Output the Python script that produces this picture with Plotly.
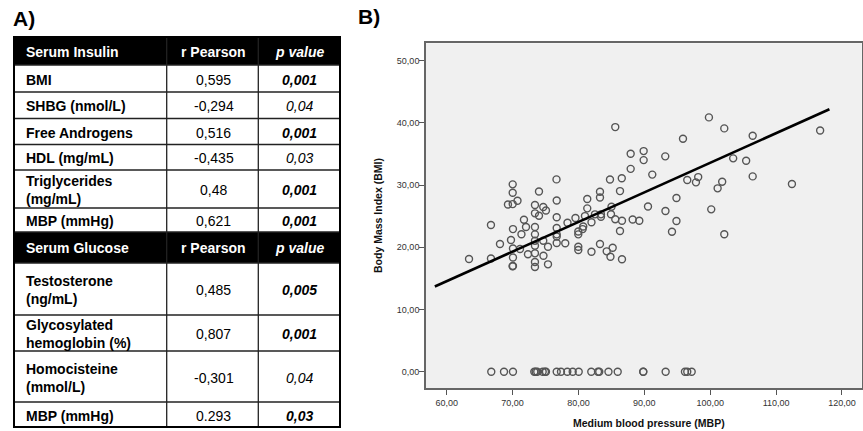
import plotly.graph_objects as go

# ---------------- Panel B data ----------------
mbp = [63.39, 66.72, 66.72, 68.09, 69.30, 69.76, 70.02, 70.02, 70.02, 70.06,
       70.06, 70.06, 70.06, 70.00, 70.75, 71.13, 71.35, 71.73, 72.04, 72.34,
       73.40, 73.40, 73.40, 73.40, 73.40, 73.40, 73.40, 73.40, 73.40, 74.01,
       74.01, 74.66, 74.66, 74.69, 75.07, 75.38, 75.38, 76.67, 76.70, 76.70,
       76.70, 76.70, 76.70, 76.70, 78.00, 78.34, 79.55, 79.98, 79.98, 80.64,
       80.73, 79.98, 79.98, 80.99, 81.34, 81.34, 81.98, 81.98, 82.51, 83.27,
       83.27, 83.42, 83.42, 83.27, 84.29, 84.86, 84.79, 85.02, 84.94, 85.20,
       85.59, 85.59, 86.31, 86.31, 86.58, 86.61, 86.61, 87.93, 87.93, 88.23,
       89.24, 89.90, 89.90, 90.56, 91.21, 93.18, 93.21, 94.20, 94.88, 94.88,
       95.87, 96.52, 97.84, 98.18, 99.81, 100.16, 101.13, 101.82, 102.14, 102.14,
       103.49, 105.46, 106.45, 106.45, 112.41, 116.69]
bmi = [18.11, 23.58, 18.19, 20.52, 26.87, 21.17, 30.12, 28.77, 26.95, 22.93,
       19.80, 18.35, 16.99, 16.95, 27.48, 19.72, 22.10, 24.43, 23.26, 18.88,
       26.79, 25.46, 23.26, 22.08, 21.05, 20.25, 19.03, 17.63, 16.83, 28.96,
       25.07, 26.47, 21.05, 18.63, 25.91, 20.09, 17.26, 30.92, 27.52, 24.83,
       23.10, 22.08, 21.73, 20.68, 20.64, 23.95, 24.70, 22.53, 22.08, 22.93,
       23.34, 20.09, 19.56, 25.02, 27.76, 26.26, 24.03, 19.29, 25.30, 28.93,
       28.00, 25.30, 24.91, 20.52, 19.35, 18.48, 30.89, 26.52, 25.31, 19.93,
       39.33, 24.51, 29.04, 22.61, 31.10, 24.27, 18.08, 35.04, 32.61, 24.46,
       24.27, 35.47, 34.02, 26.55, 31.69, 34.62, 25.83, 22.50, 27.92, 24.22,
       37.45, 30.81, 30.44, 31.29, 40.89, 26.10, 29.48, 30.54, 39.12, 22.10,
       34.30, 33.91, 37.93, 31.40, 30.17, 38.77]
# subjects plotted on the BMI = 0 line
mbp_zero = [66.77, 68.70, 70.06, 73.30, 73.51, 73.75, 74.57, 74.92, 75.07, 76.70,
            77.35, 78.31, 79.13, 80.04, 81.95, 82.97, 83.16, 84.56, 85.96, 89.84,
            89.84, 93.24, 96.17, 96.52, 97.19]
bmi_zero = [0.0] * len(mbp_zero)
fit_x = [58.2, 118.1]
fit_y = [13.7, 42.2]
x_ticks = [60, 70, 80, 90, 100, 110, 120]
y_ticks = [0, 10, 20, 30, 40, 50]
x_title = "Medium blood pressure (MBP)"
y_title = "Body Mass Index (BMI)"

# ---------------- Panel A data ----------------
col_headers = ["r Pearson", "p value"]
insulin_vars = ["BMI", "SHBG (nmol/L)", "Free Androgens", "HDL (mg/mL)",
                "Triglycerides<br>(mg/mL)", "MBP (mmHg)"]
insulin_r = ["0,595", "-0,294", "0,516", "-0,435", "0,48", "0,621"]
insulin_p = ["0,001", "0,04", "0,001", "0,03", "0,001", "0,001"]
insulin_p_bold = [True, False, True, False, True, True]
glucose_vars = ["Testosterone<br>(ng/mL)", "Glycosylated<br>hemoglobin (%)",
                "Homocisteine<br>(mmol/L)", "MBP (mmHg)"]
glucose_r = ["0,485", "0,807", "-0,301", "0.293"]
glucose_p = ["0,005", "0,001", "0,04", "0,03"]
glucose_p_bold = [True, True, False, True]

W, H = 863, 431
FONT = "Liberation Sans, Arial, Helvetica, sans-serif"


def px(x):
    return x / W


def py(y):
    return 1 - y / H


fig = go.Figure()

fig.add_trace(go.Scatter(
    x=mbp + mbp_zero, y=bmi + bmi_zero, mode="markers",
    marker=dict(symbol="circle-open", size=7, color="#555555",
                line=dict(width=1.4, color="#555555")),
    showlegend=False, hoverinfo="x+y"))
fig.add_trace(go.Scatter(
    x=fit_x, y=fit_y, mode="lines",
    line=dict(color="black", width=2.6), showlegend=False))

axis_common = dict(showgrid=False, zeroline=False, showline=True, mirror=True,
                   linecolor="#666666", linewidth=1.6, ticks="outside",
                   ticklen=5, tickwidth=1.4, tickcolor="#555555",
                   tickformat=".2f",
                   tickfont=dict(family=FONT, size=9, color="#333333"))
fig.update_xaxes(domain=[px(426), px(861.7)], range=[56.86, 123.0],
                 tickvals=x_ticks, **axis_common)
fig.update_yaxes(domain=[py(388.3), py(43.3)], range=[-2.67, 52.8],
                 tickvals=y_ticks, ticklabelstandoff=-2, **axis_common)

shapes = []
annotations = []

# ---------------- table geometry (style) ----------------
tx0, tx1, tx2, tx3 = 14, 166.7, 258.3, 340
bounds = [37, 65, 92, 118.5, 144.5, 170, 208, 232, 263, 315, 351, 402, 427]
rows = ([("head", "Serum Insulin", None, None)] +
        [("body", v, r, (p, b)) for v, r, p, b in zip(insulin_vars, insulin_r, insulin_p, insulin_p_bold)] +
        [("head", "Serum Glucose", None, None)] +
        [("body", v, r, (p, b)) for v, r, p, b in zip(glucose_vars, glucose_r, glucose_p, glucose_p_bold)])

for i, (kind, label, r, p) in enumerate(rows):
    y0, y1 = bounds[i], bounds[i + 1]
    yc = (y0 + y1) / 2 + 1
    if kind == "head":
        shapes.append(dict(type="rect", xref="paper", yref="paper",
                           x0=px(tx0), x1=px(tx3), y0=py(y1), y1=py(y0),
                           fillcolor="black", line=dict(width=0), layer="below"))
        color = "white"
        texts = ["<b>%s</b>" % label, "<b>%s</b>" % col_headers[0],
                 "<b><i>%s</i></b>" % col_headers[1]]
    else:
        color = "black"
        pv, pb = p
        texts = ["<b>%s</b>" % label, r,
                 ("<b><i>%s</i></b>" % pv) if pb else ("<i>%s</i>" % pv)]
    annotations.append(dict(xref="paper", yref="paper", x=px(tx0 + 9.5), y=py(yc),
                            xanchor="left", yanchor="middle", align="left",
                            text=texts[0], showarrow=False,
                            font=dict(family=FONT, size=14, color=color)))
    annotations.append(dict(xref="paper", yref="paper", x=px((tx1 + tx2) / 2 + 1), y=py(yc),
                            xanchor="center", yanchor="middle",
                            text=texts[1], showarrow=False,
                            font=dict(family=FONT, size=14, color=color)))
    annotations.append(dict(xref="paper", yref="paper", x=px((tx2 + tx3) / 2), y=py(yc),
                            xanchor="center", yanchor="middle",
                            text=texts[2], showarrow=False,
                            font=dict(family=FONT, size=14, color=color)))

for yb in bounds[1:-1]:
    shapes.append(dict(type="line", xref="paper", yref="paper",
                       x0=px(tx0), x1=px(tx3), y0=py(yb), y1=py(yb),
                       line=dict(color="#222222", width=1.3)))
for xb in (tx1, tx2):
    shapes.append(dict(type="line", xref="paper", yref="paper",
                       x0=px(xb), x1=px(xb), y0=py(bounds[0]), y1=py(bounds[-1]),
                       line=dict(color="#222222", width=1.3)))
shapes.append(dict(type="rect", xref="paper", yref="paper",
                   x0=px(tx0), x1=px(tx3), y0=py(bounds[-1]), y1=py(bounds[0]),
                   line=dict(color="black", width=2)))

# panel labels and axis titles
annotations.append(dict(xref="paper", yref="paper", x=px(11), y=py(18),
                        xanchor="left", yanchor="middle", text="<b>A)</b>",
                        showarrow=False, font=dict(family=FONT, size=21, color="black")))
annotations.append(dict(xref="paper", yref="paper", x=px(356), y=py(17),
                        xanchor="left", yanchor="middle", text="<b>B)</b>",
                        showarrow=False, font=dict(family=FONT, size=21, color="black")))
annotations.append(dict(xref="paper", yref="paper", x=px(649), y=py(423),
                        xanchor="center", yanchor="middle", text="<b>%s</b>" % x_title,
                        showarrow=False, font=dict(family=FONT, size=10.5, color="#111111")))
annotations.append(dict(xref="paper", yref="paper", x=px(378), y=py(216),
                        xanchor="center", yanchor="middle", text="<b>%s</b>" % y_title,
                        textangle=-90, showarrow=False,
                        font=dict(family=FONT, size=10.5, color="#111111")))

fig.update_layout(width=W, height=H, margin=dict(l=0, r=0, t=0, b=0),
                  paper_bgcolor="white", plot_bgcolor="#f0f0f0",
                  separators=",.", shapes=shapes, annotations=annotations,
                  font=dict(family=FONT))

fig.write_html("out.html", config={"displayModeBar": False},
               post_script="document.body.style.margin='0px';"
                           "document.body.style.overflow='hidden';")
